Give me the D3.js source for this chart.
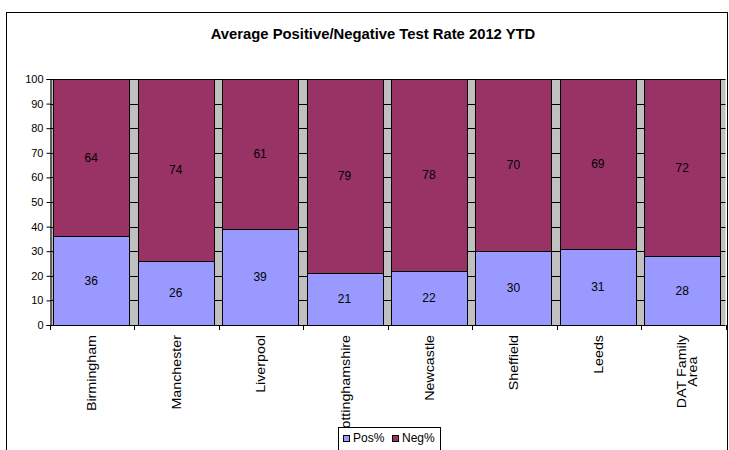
<!DOCTYPE html>
<html>
<head>
<meta charset="utf-8">
<script src="https://cdn.jsdelivr.net/npm/d3@7"></script>
<style>
  html, body { margin: 0; padding: 0; background: #fff; }
  svg { display: block; font-family: "Liberation Sans", Arial, sans-serif; }
</style>
</head>
<body>
<svg id="chart" width="729" height="450"></svg>
<script>
// Test-rate data per area (percent of tests)
const categories = ["Birmingham", "Manchester", "Liverpool", "Nottinghamshire",
                    "Newcastle", "Sheffield", "Leeds", "DAT Family\nArea"];
const posValues = [36, 26, 39, 21, 22, 30, 31, 28];
const negValues = [64, 74, 61, 79, 78, 70, 69, 72];
const seriesNames = ["Pos%", "Neg%"];
const seriesColors = ["#9999ff", "#993366"];
const yTickValues = [0, 10, 20, 30, 40, 50, 60, 70, 80, 90, 100];
const titleText = "Average Positive/Negative Test Rate 2012 YTD";

const svg = d3.select("#chart");
const plot = { left: 50, right: 725.5, top: 79, bottom: 325 };

// Outer chart frame
svg.append("rect")
  .attr("x", 6.5).attr("y", 12.5)
  .attr("width", 721).attr("height", 460)
  .attr("fill", "#fff").attr("stroke", "#000").attr("stroke-width", 1);

// Title
svg.append("text")
  .attr("x", 373).attr("y", 38.5)
  .attr("text-anchor", "middle")
  .attr("font-size", 14.8).attr("font-weight", "bold")
  .attr("fill", "#000")
  .text(titleText);

const x = d3.scaleBand()
  .domain(categories)
  .range([plot.left, plot.right])
  .paddingInner(0.1)
  .paddingOuter(0.05);

const y = d3.scaleLinear().domain([0, 100]).range([plot.bottom, plot.top]);

// Plot background
svg.append("rect")
  .attr("x", plot.left).attr("y", plot.top)
  .attr("width", plot.right - plot.left).attr("height", plot.bottom - plot.top)
  .attr("fill", "#c0c0c0");

// Horizontal gridlines
svg.append("g")
  .selectAll("line")
  .data(yTickValues.filter(d => d > 0))
  .join("line")
  .attr("x1", plot.left).attr("x2", plot.right)
  .attr("y1", d => Math.round(y(d)) + 0.5).attr("y2", d => Math.round(y(d)) + 0.5)
  .attr("stroke", "#000").attr("stroke-width", 1);

// Stacked bars
const rows = categories.map((c, i) => ({ cat: c, pos: posValues[i], neg: negValues[i] }));
const stack = d3.stack().keys(["pos", "neg"]);
const layers = stack(rows);

const layerG = svg.append("g")
  .selectAll("g")
  .data(layers)
  .join("g")
  .attr("fill", (d, i) => seriesColors[i]);

layerG.selectAll("rect")
  .data(d => d)
  .join("rect")
  .attr("x", d => Math.round(x(d.data.cat)) - 0.5)
  .attr("y", d => Math.round(y(d[1])) + 0.5)
  .attr("width", Math.round(x.bandwidth()))
  .attr("height", d => Math.round(y(d[0])) - Math.round(y(d[1])))
  .attr("stroke", "#000").attr("stroke-width", 1);

// Segment value labels
layerG.selectAll("text")
  .data((d, i) => d.map(s => ({ s, key: layers[i].key })))
  .join("text")
  .attr("x", d => x(d.s.data.cat) + x.bandwidth() / 2 - 1)
  .attr("y", d => (y(d.s[0]) + y(d.s[1])) / 2)
  .attr("dy", "0.36em")
  .attr("text-anchor", "middle")
  .attr("font-size", 12)
  .attr("fill", "#000")
  .text(d => d.s.data[d.key]);

// Y axis
const yAxis = d3.axisLeft(y).tickValues(yTickValues).tickSize(4).tickPadding(3);
const yAxisG = svg.append("g")
  .attr("transform", `translate(${plot.left + 0.5},0)`)
  .call(yAxis);
yAxisG.select(".domain").attr("stroke", "#000");
yAxisG.selectAll(".tick line").attr("stroke", "#000");
yAxisG.selectAll(".tick text")
  .attr("font-size", 11).attr("font-family", "Liberation Sans, Arial, sans-serif")
  .attr("fill", "#000");

// X axis line and category boundary ticks
const step = x.step();
const boundaries = d3.range(categories.length + 1).map(i => plot.left + i * step);
svg.append("line")
  .attr("x1", plot.left).attr("x2", plot.right)
  .attr("y1", plot.bottom + 0.5).attr("y2", plot.bottom + 0.5)
  .attr("stroke", "#000");
svg.append("g")
  .selectAll("line")
  .data(boundaries)
  .join("line")
  .attr("x1", d => Math.round(d) + 0.5).attr("x2", d => Math.round(d) + 0.5)
  .attr("y1", plot.bottom).attr("y2", plot.bottom + 5)
  .attr("stroke", "#000");

// Rotated category labels
const labelTop = 335;
const stretch = 1.19;
const labelG = svg.append("g");
categories.forEach(cat => {
  const lines = cat.split("\n");
  const cx = x(cat) + x.bandwidth() / 2;
  const g = labelG.append("g")
    .attr("transform", `translate(${cx},${labelTop}) rotate(-90) scale(${stretch},1)`);
  const texts = lines.map((ln, i) =>
    g.append("text")
      .attr("font-size", 12)
      .attr("fill", "#000")
      .attr("y", 4 + i * 10.7 - (lines.length - 1) * 1)
      .text(ln));
  const maxLen = d3.max(texts, t => t.node().getComputedTextLength());
  texts.forEach(t => t.attr("x", -maxLen / 2).attr("text-anchor", "middle"));
});

// Legend
const legend = svg.append("g");
legend.append("rect")
  .attr("x", 338.5).attr("y", 427.5)
  .attr("width", 102).attr("height", 30)
  .attr("fill", "#fff").attr("stroke", "#000");
const legendX = [343, 392];
seriesNames.forEach((name, i) => {
  const lx = legendX[i];
  legend.append("rect")
    .attr("x", lx + 0.5).attr("y", 435.5)
    .attr("width", 6).attr("height", 6)
    .attr("fill", seriesColors[i]).attr("stroke", "#000");
  legend.append("text")
    .attr("x", lx + 10).attr("y", 442)
    .attr("font-size", 12)
    .attr("fill", "#000")
    .text(name);
});
</script>
</body>
</html>
